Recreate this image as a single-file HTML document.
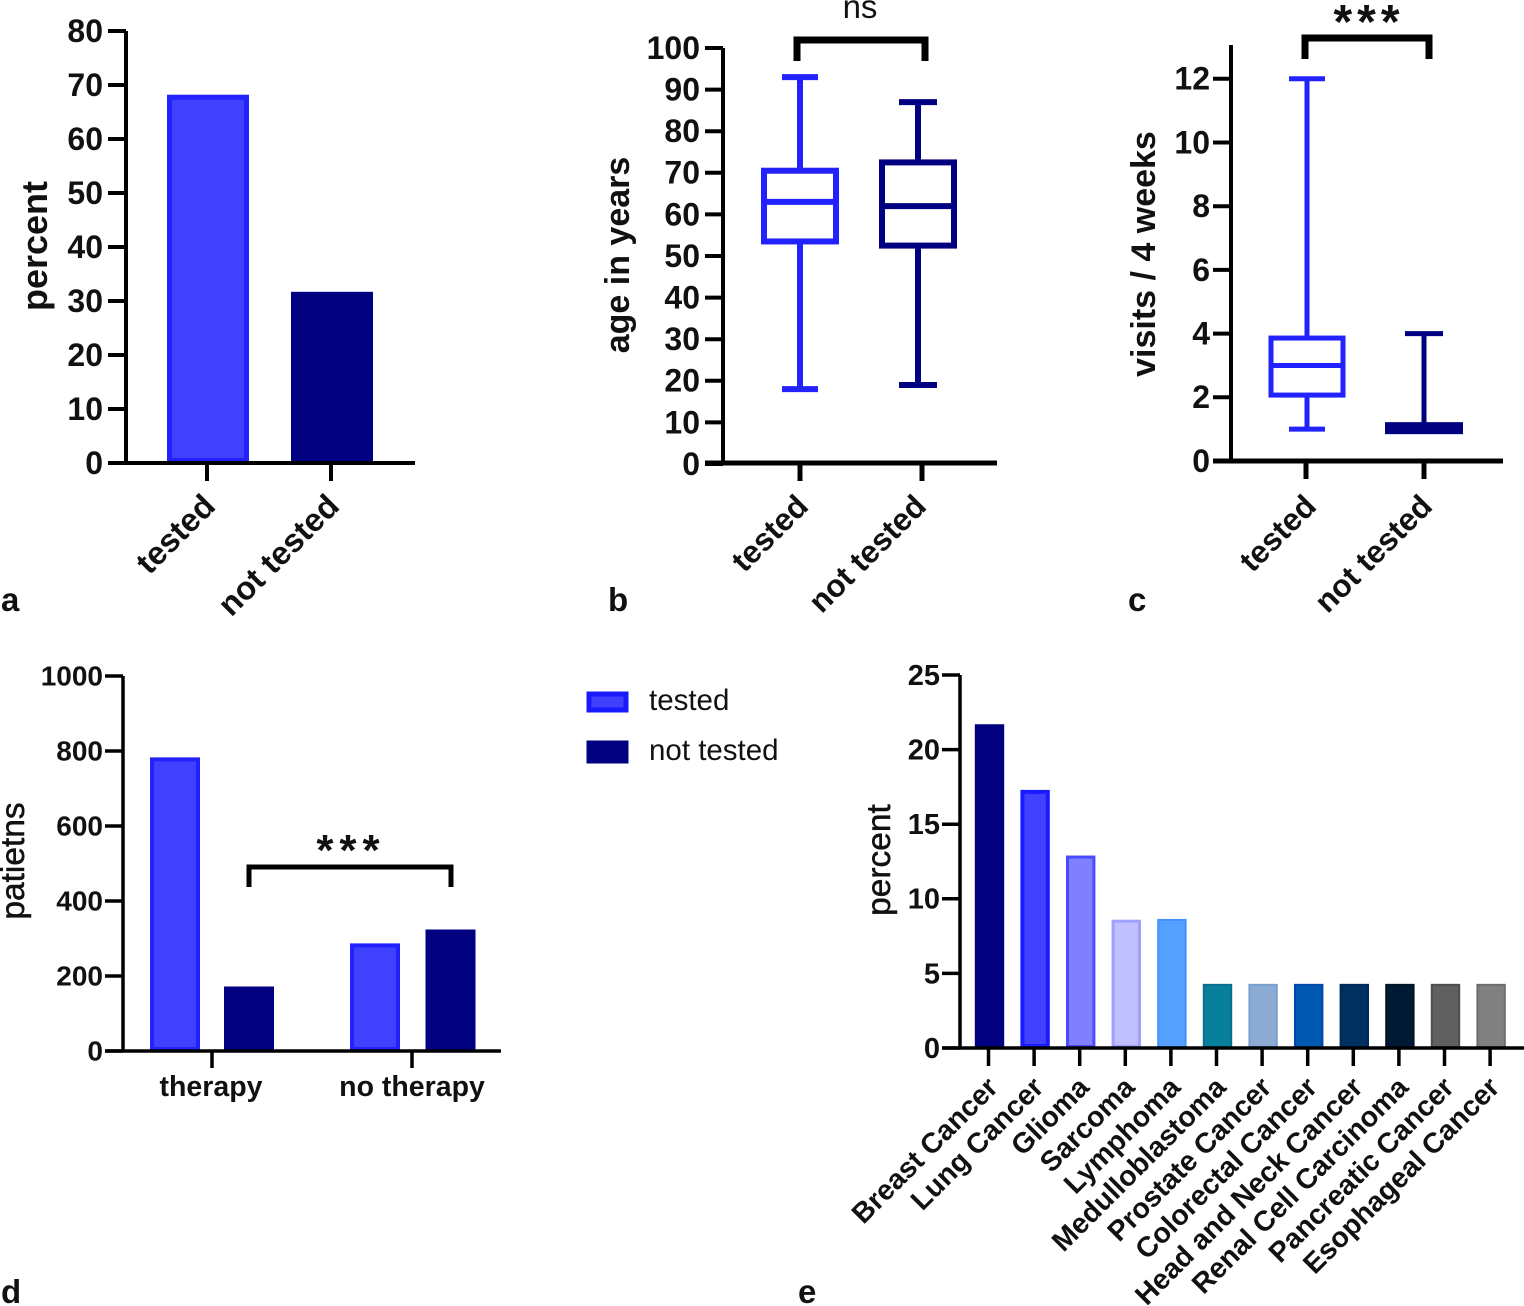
<!DOCTYPE html>
<html lang="en">
<head>
<meta charset="utf-8">
<title>Testing charts</title>
<style>
html,body{margin:0;padding:0;background:#fff;width:1524px;height:1306px;overflow:hidden}
svg{display:block;font-family:"Liberation Sans",Arial,sans-serif}
</style>
</head>
<body>
<svg id="figure" width="1524" height="1306" viewBox="0 0 1524 1306" xmlns="http://www.w3.org/2000/svg"></svg>
<script>
// Panel a
const aCategories = ['tested', 'not tested'];
const aValues = [68.2, 31.7];
const aTicks = [0, 10, 20, 30, 40, 50, 60, 70, 80];
// Panel b
const bCategories = ['tested', 'not tested'];
const bMin = [18, 19];
const bQ1 = [53.5, 52.5];
const bMedian = [63, 62];
const bQ3 = [70.5, 72.5];
const bMax = [93, 87];
const bTicks = [0, 10, 20, 30, 40, 50, 60, 70, 80, 90, 100];
// Panel c
const cCategories = ['tested', 'not tested'];
const cMin = [1, 1];
const cQ1 = [2.07, 1];
const cMedian = [3, 1];
const cQ3 = [3.86, 1];
const cMax = [12, 4];
const cTicks = [0, 2, 4, 6, 8, 10, 12];
// Panel d
const dGroups = ['therapy', 'no therapy'];
const dTested = [783, 287];
const dNotTested = [172, 324];
const dTicks = [0, 200, 400, 600, 800, 1000];
// Panel e
const eCategories = ['Breast Cancer', 'Lung Cancer', 'Glioma', 'Sarcoma', 'Lymphoma', 'Medulloblastoma', 'Prostate Cancer', 'Colorectal Cancer', 'Head and Neck Cancer', 'Renal Cell Carcinoma', 'Pancreatic Cancer', 'Esophageal Cancer'];
const eValues = [21.7, 17.3, 12.9, 8.6, 8.65, 4.3, 4.3, 4.3, 4.3, 4.3, 4.3, 4.3];
const eFills = ['#000080', '#4040ff', '#8080ff', '#c0c0ff', '#559fff', '#08809c', '#8cabd3', '#0058b0', '#003060', '#001a33', '#606060', '#808080'];
const eStrokes = ['#000080', '#1a1aff', '#4a4aff', '#a0a0ff', '#3f92ff', '#08708c', '#7aa0cf', '#0048a8', '#002858', '#001428', '#4c4c4c', '#6c6c6c'];

const svg = document.getElementById('figure');
const NS = 'http://www.w3.org/2000/svg';
const BLUE = '#2222ff', BLUEFILL = '#4040ff', NAVY = '#000080';

function make(tag, attrs, text) {
  const el = document.createElementNS(NS, tag);
  for (const k in attrs) el.setAttribute(k, attrs[k]);
  if (text !== undefined) el.textContent = text;
  svg.appendChild(el);
  return el;
}
function line(x1, y1, x2, y2, color, w) {
  return make('line', {x1: x1, y1: y1, x2: x2, y2: y2, stroke: color, 'stroke-width': w});
}
function rotatedLabel(str, x, y, size, weight) {
  const el = make('text', {x: x, y: y, 'font-size': size, 'font-weight': weight, 'text-anchor': 'end', fill: '#111', transform: 'rotate(-45 ' + x + ' ' + y + ')'}, str);
  
  
  return el;
}
function yTitle(str, x, y, size, weight, extra) {
  const el = make('text', {x: x, y: y, 'font-size': size, 'font-weight': weight, 'text-anchor': 'middle', fill: '#111', stroke: '#111', 'stroke-width': extra, transform: 'rotate(-90 ' + x + ' ' + y + ')'}, str);
  
  
  return el;
}
function yAxis(scale, ticks, axisX, top, bottom, tickLen, size, w, gap) {
  const ax = line(axisX, top, axisX, bottom, '#000', w);
  
  
  ticks.forEach(function (t) {
    const m = line(axisX - tickLen, scale(t), axisX, scale(t), '#000', w);
    
    
    const lb = make('text', {x: axisX - tickLen - gap, y: scale(t) + size * 0.34, 'font-size': size, 'font-weight': 'bold', 'text-anchor': 'end', fill: '#111'}, String(t));
    
    
  });
}
function xAxis(x1, x2, y, tickXs, tickLen, w) {
  const ax = line(x1, y, x2, y, '#000', w);
  
  
  tickXs.forEach(function (x) {
    const m = line(x, y, x, y + tickLen, '#000', w);
    
    
  });
}
function bar(x0, x1, top, bottom, fill, stroke, sw, name) {
  const r = make('rect', {x: x0 + sw / 2, y: top + sw / 2, width: x1 - x0 - sw, height: Math.max(0, bottom - top - sw), fill: fill, stroke: stroke, 'stroke-width': sw});
  
  
  return r;
}
function bracket(x1, x2, top, bottom, w) {
  const p = make('polyline', {points: x1 + ',' + bottom + ' ' + x1 + ',' + top + ' ' + x2 + ',' + top + ' ' + x2 + ',' + bottom, fill: 'none', stroke: '#000', 'stroke-width': w});
  
  
}
function sigText(str, x, y, size, spacing, weight) {
  const t = make('text', {x: x, y: y, 'font-size': size, 'font-weight': weight, 'text-anchor': 'middle', 'letter-spacing': spacing, fill: '#111'}, str);
  
  
}
function panelLabel(str, x, y) {
  const t = make('text', {x: x, y: y, 'font-size': 33, 'font-weight': 'bold', fill: '#111'}, str);
  
  
}
function box(cx, halfBox, halfCap, i, scale, mins, q1s, meds, q3s, maxs, color, w) {
  const parts = [
    line(cx, scale(maxs[i]), cx, scale(q3s[i]), color, w),
    line(cx, scale(q1s[i]), cx, scale(mins[i]), color, w),
    line(cx - halfCap, scale(maxs[i]), cx + halfCap, scale(maxs[i]), color, w),
    line(cx - halfCap, scale(mins[i]), cx + halfCap, scale(mins[i]), color, w),
    make('rect', {x: cx - halfBox, y: scale(q3s[i]), width: halfBox * 2, height: scale(q1s[i]) - scale(q3s[i]), fill: 'none', stroke: color, 'stroke-width': w}),
    line(cx - halfBox, scale(meds[i]), cx + halfBox, scale(meds[i]), color, w)
  ];
  parts.forEach(function (p) {
    
    
  });
}

/* ---------- panel a ---------- */
const aY = function (v) { return 463 - v * 5.4; };
const aX = [208, 332];
aValues.forEach(function (v, i) {
  bar(aX[i] - 41, aX[i] + 41, aY(v), 463, i === 0 ? BLUEFILL : NAVY, i === 0 ? BLUE : NAVY, 5, 'bar-a-' + aCategories[i].replace(' ', '-'));
});
yAxis(aY, aTicks, 126, 31, 463, 18, 32, 4, 5);
xAxis(108, 415, 463, [207, 331], 18, 4);
rotatedLabel(aCategories[0], 217, 508, 32.5, 'bold');
rotatedLabel(aCategories[1], 341, 508, 32.5, 'bold');
yTitle('percent', 47, 246, 36, 'bold', 0);
panelLabel('a', 1, 611);

/* ---------- panel b ---------- */
const bY = function (v) { return 464 - v * 4.16; };
const bX = [800, 918];
box(bX[0], 36, 18, 0, bY, bMin, bQ1, bMedian, bQ3, bMax, BLUE, 6);
box(bX[1], 36, 19, 1, bY, bMin, bQ1, bMedian, bQ3, bMax, NAVY, 6);
yAxis(bY, bTicks, 723, 48, 464, 18, 32, 4, 5);
xAxis(705, 997, 463, [800, 922], 18, 5);
rotatedLabel(bCategories[0], 810, 508, 31.5, 'bold');
rotatedLabel(bCategories[1], 928, 508, 31.5, 'bold');
yTitle('age in years', 629, 255, 34, 'bold', 0);
bracket(797, 925, 40, 61, 7);
sigText('ns', 860, 18, 33, 0, 'normal');
panelLabel('b', 608, 611);

/* ---------- panel c ---------- */
const cY = function (v) { return 461 - v * 31.85; };
const cX = [1307, 1424];
box(cX[0], 36, 18, 0, cY, cMin, cQ1, cMedian, cQ3, cMax, BLUE, 5);
box(cX[1], 36, 19, 1, cY, cMin, cQ1, cMedian, cQ3, cMax, NAVY, 5);
const cThick = bar(cX[1] - 39, cX[1] + 39, cY(cQ1[1]) - 7, cY(cQ1[1]) + 5, NAVY, NAVY, 0, 'box-c-not-tested');
yAxis(cY, cTicks, 1231, 45, 461, 18, 32, 4, 3);
xAxis(1213, 1503, 461, [1306, 1424], 18, 5);
rotatedLabel(cCategories[0], 1318, 508, 31.5, 'bold');
rotatedLabel(cCategories[1], 1434, 508, 31.5, 'bold');
yTitle('visits / 4 weeks', 1155, 254, 34, 'bold', 0);
bracket(1305, 1429, 38, 59, 7);
sigText('***', 1369, 38, 48, 5, 'bold');
panelLabel('c', 1128, 611);

/* ---------- panel d ---------- */
const dY = function (v) { return 1051 - v * 0.375; };
const dTestedX = [175, 375];
const dNotTestedX = [249, 450.5];
dGroups.forEach(function (g, i) {
  bar(dTestedX[i] - 25, dTestedX[i] + 25, dY(dTested[i]), 1051, BLUEFILL, BLUE, 4, 'bar-d-tested-' + g.replace(' ', '-'));
  bar(dNotTestedX[i] - 25, dNotTestedX[i] + 25, dY(dNotTested[i]), 1051, NAVY, NAVY, 3, 'bar-d-not-tested-' + g.replace(' ', '-'));
});
yAxis(dY, dTicks, 123, 676, 1051, 18, 28, 3.5, 2);
xAxis(105, 501, 1051, [212, 412], 17, 3.5);
const dLabelX = [211, 412];
dGroups.forEach(function (g, i) {
  const t = make('text', {x: dLabelX[i], y: 1096, 'font-size': 28.5, 'font-weight': 'bold', 'text-anchor': 'middle', fill: '#111'}, g);
  
  
});
yTitle('patietns', 24, 861, 33.5, 'normal', 0.5);
bracket(249, 451, 867, 887, 5);
sigText('***', 351, 865, 44, 6, 'bold');
panelLabel('d', 1, 1303);

/* ---------- legend ---------- */
const legendLabels = ['tested', 'not tested'];
const legendFills = [BLUEFILL, NAVY];
const legendStrokes = ['#1a1aff', NAVY];
legendLabels.forEach(function (l, i) {
  const top = i === 0 ? 692 : 741;
  const s = make('rect', {x: 589, y: top + 2, width: 37, height: i === 0 ? 16 : 18, fill: legendFills[i], stroke: legendStrokes[i], 'stroke-width': 5});
  
  
  const t = make('text', {x: 649, y: i === 0 ? 710 : 760, 'font-size': 29.5, fill: '#111'}, l);
  
  
});

/* ---------- panel e ---------- */
const eY = function (v) { return 1048 - v * 14.92; };
const eX = function (i) { return 989.5 + i * 45.6; };
eValues.forEach(function (v, i) {
  bar(eX(i) - 14.7, eX(i) + 14.7, eY(v), 1048, eFills[i], eStrokes[i], i < 4 ? 3 + (i === 1 ? 1 : 0) : 2, 'bar-e-' + eCategories[i].toLowerCase().replace(/ /g, '-'));
});
yAxis(eY, [0, 5, 10, 15, 20, 25], 960, 675, 1048, 18, 29, 3.5, 2);
xAxis(942, 1524, 1048, eValues.map(function (v, i) { return eX(i) - 1; }), 18, 3.5);
eCategories.forEach(function (c, i) {
  rotatedLabel(c, eX(i) + 10, 1089, 28.4, 'bold');
});
yTitle('percent', 890, 860, 33.5, 'normal', 0.5);
panelLabel('e', 798, 1303);
</script>
</body>
</html>
